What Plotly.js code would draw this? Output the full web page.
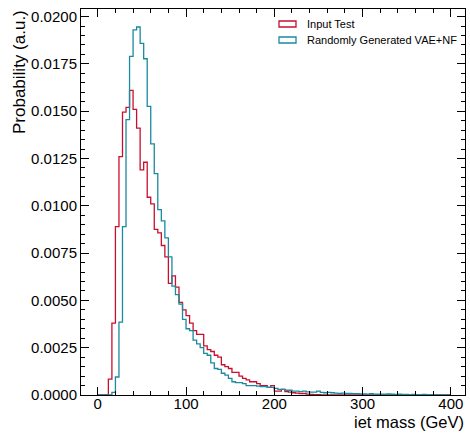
<!DOCTYPE html>
<html>
<head>
<meta charset="utf-8">
<script src="https://cdn.plot.ly/plotly-3.0.1.min.js"></script>
<style>html,body{margin:0;padding:0;background:#fff;}#chart{width:470px;height:433px;}</style>
</head>
<body>
<div id="chart"></div>
<script>
// Histogram bins: 4 GeV wide, from 0 to 400 GeV
const binStart = 0;
const binWidth = 4;
const binCount = 100;

// Normalised bin contents (probability density), one value per bin
const inputTest = [
  0, 0, 0, 0.00084, 0.0038, 0.0089, 0.0126, 0.01495, 0.0152, 0.0161,
  0.0151, 0.0141, 0.0119, 0.0123, 0.01045, 0.0101, 0.00875, 0.00857, 0.0079, 0.0073,
  0.0059, 0.0063, 0.0057, 0.0049, 0.0045, 0.0042, 0.0038, 0.0034, 0.0032, 0.0032,
  0.0026, 0.0024, 0.0023, 0.0021, 0.0020, 0.0016, 0.0015, 0.0014, 0.0012, 0.0012,
  0.0010, 0.00088, 0.0008, 0.0007, 0.0007, 0.0006, 0.0005, 0.0005, 0.0004, 0.0005,
  0.0002, 0.0002, 0.0003, 0.00018, 0.00015, 0.00012, 0.0001, 0.00008, 0.00008, 0.00005,
  0.00003, 0.00002, 0.00002, 0, 0, 0, 0, 0, 0, 0,
  0, 0, 0, 0, 0, 0, 0, 0, 0, 0,
  0, 0, 0, 0, 0, 0, 0, 0, 0, 0,
  0, 0, 0, 0, 0, 0, 0, 0, 0, 0
];
const generatedVAENF = [
  0, 0, 0, 0, 0.00014, 0.00095, 0.00385, 0.0089, 0.01455, 0.0179,
  0.0193, 0.01945, 0.01858, 0.01777, 0.01525, 0.01327, 0.0117, 0.0098, 0.0092, 0.0083,
  0.0073, 0.00575, 0.0053, 0.0048, 0.0040, 0.0035, 0.0034, 0.0029, 0.0027, 0.0025,
  0.0022, 0.0021, 0.0017, 0.0014, 0.00135, 0.00115, 0.00105, 0.00088, 0.0007, 0.00065,
  0.00065, 0.0006, 0.0005, 0.0005, 0.0005, 0.00047, 0.00044, 0.00044, 0.0004, 0.0004,
  0.00035, 0.0003, 0.0003, 0.00025, 0.00025, 0.0002, 0.0002, 0.00018, 0.0002, 0.00016,
  0.00015, 0.00015, 0.0002, 0.00014, 0.00012, 0.00014, 0.00012, 0.0001, 0.00009, 0.0001,
  0.00008, 0.00008, 0.00007, 0.00007, 0.00006, 0.00006, 0.00005, 0.00007, 0.00005, 0.00004,
  0.00005, 0.00004, 0.00006, 0.00004, 0.00003, 0.00004, 0.00003, 0.00003, 0.00002, 0.00003,
  0.00002, 0.00002, 0.00003, 0.00002, 0.00002, 0.00002, 0.00001, 0.00001, 0.00001, 0.00001
];

const seriesNames = ["Input Test", "Randomly Generated VAE+NF"];
const seriesColors = ["#c8102e", "#1a8a9e"];
const yTickValues = [0, 0.0025, 0.005, 0.0075, 0.01, 0.0125, 0.015, 0.0175, 0.02];
const xTickValues = [0, 100, 200, 300, 400];
const xTitle = "iet mass (GeV)";
const yTitle = "Probability (a.u.)";

const edges = [];
for (let i = 0; i <= binCount; i++) edges.push(binStart + i * binWidth);

function stepTrace(vals, color, name) {
  return {
    type: 'scatter', mode: 'lines', name: name, showlegend: false,
    x: edges, y: vals.concat([vals[vals.length - 1]]),
    line: {shape: 'hv', color: color, width: 1.3},
    hoverinfo: 'skip'
  };
}

const data = [
  stepTrace(inputTest, seriesColors[0], seriesNames[0]),
  stepTrace(generatedVAENF, seriesColors[1], seriesNames[1])
];

const W = 470, H = 433, L = 81, R = 5, T = 9, B = 38;
const pw = W - L - R, ph = H - T - B;
const px = v => (v - L) / pw;
const py = v => (H - B - v) / ph;

const font = "Liberation Sans, Arial, sans-serif";
const shapes = [], annotations = [];
seriesNames.forEach((nm, k) => {
  const yc = 24 + k * 16;
  shapes.push({type: 'rect', xref: 'paper', yref: 'paper',
    x0: px(279), x1: px(296), y0: py(yc - 3), y1: py(yc + 3),
    line: {color: seriesColors[k], width: 1.3}, fillcolor: 'rgba(0,0,0,0)'});
  annotations.push({xref: 'paper', yref: 'paper', x: px(305), y: py(yc),
    xanchor: 'left', yanchor: 'middle', showarrow: false, text: nm,
    font: {family: font, size: 11, color: '#000'}});
});
annotations.push({xref: 'paper', yref: 'paper', x: 1, y: py(432),
  xanchor: 'right', yanchor: 'bottom', showarrow: false, text: xTitle,
  font: {family: font, size: 16.5, color: '#000'}, borderpad: 0});
annotations.push({xref: 'paper', yref: 'paper', x: px(19), y: py(8),
  xanchor: 'center', yanchor: 'top', showarrow: false, text: yTitle, textangle: -90,
  font: {family: font, size: 17, color: '#000'}});

const axisCommon = {
  showgrid: false, zeroline: false, showline: true, linecolor: '#000', linewidth: 1,
  mirror: 'ticks', ticks: 'inside', ticklen: 8, tickcolor: '#000', tickwidth: 1,
  tickfont: {family: font, size: 15, color: '#000'}
};

const layout = {
  width: W, height: H,
  margin: {l: L, r: R, t: T, b: B},
  paper_bgcolor: '#fff', plot_bgcolor: '#fff',
  showlegend: false,
  xaxis: Object.assign({}, axisCommon, {
    range: [-19, 416], tickmode: 'array', tickvals: xTickValues,
    ticktext: xTickValues.map(String), ticklabelstandoff: -5,
    minor: {dtick: 20, tick0: 0, ticklen: 4, ticks: 'inside', tickcolor: '#000', showgrid: false}
  }),
  yaxis: Object.assign({}, axisCommon, {
    range: [0, 0.0204], tickmode: 'array', tickvals: yTickValues,
    ticktext: yTickValues.map(v => v.toFixed(4)),
    minor: {dtick: 0.0005, tick0: 0, ticklen: 4, ticks: 'inside', tickcolor: '#000', showgrid: false}
  }),
  shapes: shapes, annotations: annotations
};

Plotly.newPlot('chart', data, layout, {staticPlot: true, displayModeBar: false});
</script>
</body>
</html>
